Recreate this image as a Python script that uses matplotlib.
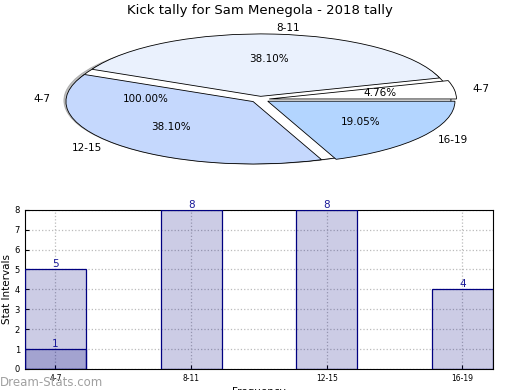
import numpy as np
import matplotlib
matplotlib.use('Agg')
import matplotlib.pyplot as plt

# pie data
pie_labels = ['4-7', '8-11', '12-15', '16-19']
pie_counts = [1, 8, 8, 4]
pie_colors = ['#ffffff', '#eaf1fd', '#c5d8fd', '#b3d5ff']
full_label = ['4-7']
full_count = [5]

# bar data
bar_cats = ['4-7', '8-11', '12-15', '16-19']
bar_vals = [5, 8, 8, 4]
bar_vals2 = [1]

fig = plt.figure(figsize=(5.2, 3.9), dpi=100)
fig.suptitle('Kick tally for Sam Menegola - 2018 tally', fontsize=9.5, y=0.99)

# pie
ax1 = fig.add_axes([0.05, 0.545, 0.9, 0.40])
ax1.pie(full_count, labels=full_label, colors=['#ffffff'], autopct='%1.2f%%',
        radius=1.02,
        shadow={'ox': -0.02, 'oy': -0.012, 'shade': 0.5},
        wedgeprops={'linewidth': 0.6, 'edgecolor': 'black'},
        textprops={'fontsize': 7.5})
ax1.pie(pie_counts, labels=pie_labels, colors=pie_colors, autopct='%1.2f%%',
        explode=[0.05] * 4, startangle=0,
        wedgeprops={'linewidth': 0.6, 'edgecolor': 'black'},
        textprops={'fontsize': 7.5})
ax1.set_aspect('auto')

# bars
ax2 = fig.add_axes([0.048, 0.054, 0.9, 0.408])
x = np.arange(len(bar_cats))
ax2.bar(x, bar_vals, 0.45, color='navy', alpha=0.2, zorder=2)
ax2.bar(x, bar_vals, 0.45, fill=False, edgecolor='navy', linewidth=0.9, zorder=3)
ax2.bar(x[:1], bar_vals2, 0.45, color='navy', alpha=0.2, zorder=2)
ax2.bar(x[:1], bar_vals2, 0.45, fill=False, edgecolor='navy', linewidth=0.9, zorder=3)
for xi, v in zip(x, bar_vals):
    ax2.text(xi, v, str(v), ha='center', va='bottom', color='#1a1a99', fontsize=7.5)
for xi, v in zip(x[:1], bar_vals2):
    ax2.text(xi, v, str(v), ha='center', va='bottom', color='#1a1a99', fontsize=7.5)
ax2.set_xlim(-0.225, 3.225)
ax2.set_ylim(0, 8)
ax2.set_yticks(range(9))
ax2.set_xticks(x)
ax2.set_xticklabels(bar_cats, fontsize=5.5)
ax2.tick_params(axis='y', labelsize=6, direction='in', length=3)
ax2.tick_params(axis='x', direction='in', length=3)
ax2.grid(True, linestyle=':', color='#bbbbbb', linewidth=0.9, zorder=0)
ax2.set_axisbelow(True)
ax2.set_ylabel('Stat Intervals', fontsize=7.5, labelpad=2)
ax2.set_xlabel('Frequency', fontsize=7.5, labelpad=3)

fig.text(0.0, 0.01, 'Dream-Stats.com', fontsize=8.5, color='#a0a0a0')

fig.savefig('out.png', dpi=100)
